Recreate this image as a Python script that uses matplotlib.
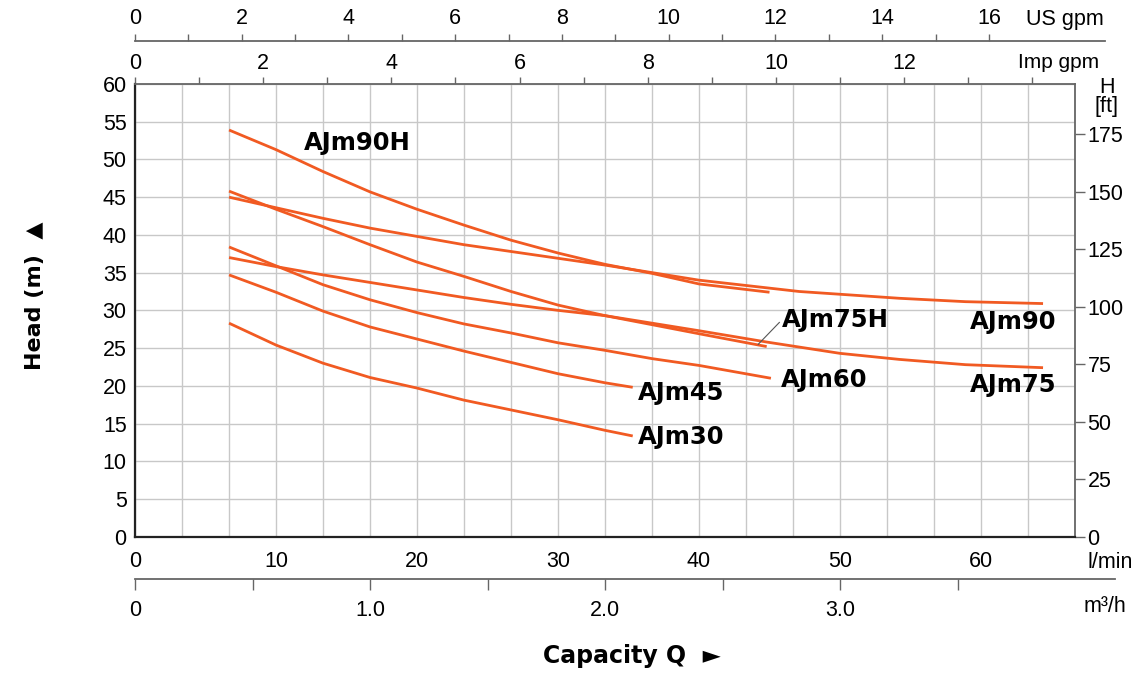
import matplotlib.pyplot as plt
from matplotlib.ticker import MultipleLocator

# capacity in l/min, head in m
q_90h = [6.67, 10, 13.33, 16.67, 20, 23.33, 26.67, 30, 33.33, 36.67, 40, 45.0]
h_90h = [53.9, 51.3, 48.4, 45.7, 43.4, 41.3, 39.3, 37.6, 36.1, 34.9, 33.5, 32.4]

q_90 = [6.67, 10, 13.33, 16.67, 20, 23.33, 26.67, 30, 33.33, 36.67, 40, 47.1, 54.2, 58.9, 64.4]
h_90 = [45.0, 43.6, 42.2, 40.9, 39.8, 38.7, 37.8, 36.9, 36.0, 35.0, 34.0, 32.5, 31.6, 31.15, 30.9]

q_75h = [6.67, 10, 13.33, 16.67, 20, 23.33, 26.67, 30, 33.33, 36.67, 40, 44.8]
h_75h = [45.8, 43.4, 41.1, 38.7, 36.4, 34.5, 32.5, 30.7, 29.3, 28.1, 26.9, 25.2]

q_75 = [6.67, 10, 13.33, 16.67, 20, 23.33, 26.67, 30, 33.33, 36.67, 40, 44.8, 50, 54.2, 58.9, 64.4]
h_75 = [37.0, 35.8, 34.7, 33.7, 32.7, 31.7, 30.8, 30.0, 29.3, 28.3, 27.3, 25.8, 24.3, 23.5, 22.8, 22.4]

q_60 = [6.67, 10, 13.33, 16.67, 20, 23.33, 26.67, 30, 33.33, 36.67, 40, 45.1]
h_60 = [38.4, 35.9, 33.4, 31.4, 29.7, 28.2, 27.0, 25.7, 24.7, 23.6, 22.7, 21.0]

q_45 = [6.67, 10, 13.33, 16.67, 20, 23.33, 26.67, 30, 33.33, 35.3]
h_45 = [34.7, 32.4, 29.9, 27.8, 26.2, 24.6, 23.1, 21.6, 20.4, 19.8]

q_30 = [6.67, 10, 13.33, 16.67, 20, 23.33, 26.67, 30, 33.33, 35.3]
h_30 = [28.3, 25.4, 23.0, 21.1, 19.7, 18.1, 16.8, 15.5, 14.1, 13.35]

curves = [(q_90h, h_90h), (q_90, h_90), (q_75h, h_75h), (q_75, h_75),
          (q_60, h_60), (q_45, h_45), (q_30, h_30)]

labels = ["AJm90H", "AJm90", "AJm75H", "AJm75", "AJm60", "AJm45", "AJm30"]
label_x = [12.0, 59.2, 45.9, 59.2, 45.8, 35.65, 35.65]
label_y = [52.2, 28.45, 28.7, 20.1, 20.8, 19.0, 13.2]

orange = "#f15a22"
tick_font = "Liberation Sans"
fs = 15.5
W, H = 1148, 673

fig = plt.figure(figsize=(W / 100, H / 100), dpi=100)
L, R, B, T = 135 / W, 1075 / W, (H - 536.7) / H, (H - 84) / H
ax = fig.add_axes([L, B, R - L, T - B])

XMAX = 200 / 3  # 4.0 m3/h in l/min
ax.set_xlim(0, XMAX)
ax.set_ylim(0, 60)

for (q, h) in curves:
    ax.plot(q, h, color=orange, lw=2.0, solid_capstyle='butt', solid_joinstyle='round', zorder=3)

for name, x, y in zip(labels, label_x, label_y):
    ax.text(x, y, name, ha='left', va='center', fontsize=17.5, fontweight='heavy',
            family='DejaVu Sans', zorder=4)
# leader line for AJm75H
ax.plot([44.2, 45.7], [25.5, 28.4], color='#555555', lw=0.8, zorder=4)

# grid
ax.xaxis.set_major_locator(MultipleLocator(10))
ax.xaxis.set_minor_locator(MultipleLocator(10 / 3))
ax.yaxis.set_major_locator(MultipleLocator(5))
ax.grid(True, which='both', axis='x', color='#c8c8c8', lw=1.0, zorder=0)
ax.grid(True, which='major', axis='y', color='#c8c8c8', lw=1.0, zorder=0)
ax.tick_params(axis='both', which='both', length=0)
ax.tick_params(axis='x', pad=10, labelsize=fs)
ax.tick_params(axis='y', pad=6, labelsize=fs)
for lab in ax.get_xticklabels() + ax.get_yticklabels():
    lab.set_family(tick_font)
ax.set_axisbelow(True)

for s in ['left', 'bottom']:
    ax.spines[s].set_color('#222222')
    ax.spines[s].set_linewidth(1.6)
for s in ['top', 'right']:
    ax.spines[s].set_color('#666666')
    ax.spines[s].set_linewidth(1.3)

# right axis in feet
ft = ax.secondary_yaxis('right', functions=(lambda m: m / 0.3048, lambda f: f * 0.3048))
ft.set_yticks(range(0, 176, 25))
ft.tick_params(length=7, width=1.0, color='#666666', pad=2, labelsize=fs)
ft.spines['right'].set_visible(False)
for lab in ft.get_yticklabels():
    lab.set_family(tick_font)

# top axis imp gpm
imp = ax.secondary_xaxis('top', functions=(lambda x: x / 4.546, lambda g: g * 4.546))
imp.set_xticks(range(0, 15), labels=[str(i) if i % 2 == 0 and i < 14 else "" for i in range(0, 15)])
imp.tick_params(length=5, width=1.0, color='#666666', pad=2, labelsize=fs)
imp.spines['top'].set_visible(False)
for lab in imp.get_xticklabels():
    lab.set_family(tick_font)

# US gpm axis line
us_end = 68.8
ax_us = fig.add_axes([L, (H - 41.3) / H, (R - L) * us_end / XMAX, 0.0001])
ax_us.set_xlim(0, us_end / 3.785)
ax_us.set_yticks([])
ax_us.patch.set_visible(False)
for s in ['left', 'right', 'bottom']:
    ax_us.spines[s].set_visible(False)
ax_us.spines['top'].set_color('#666666')
ax_us.spines['top'].set_linewidth(1.3)
ax_us.xaxis.tick_top()
ax_us.set_xticks(range(0, 17), labels=[str(i) if i % 2 == 0 else "" for i in range(0, 17)])
ax_us.tick_params(axis='x', length=5, width=1.0, color='#666666', pad=4, labelsize=fs)
for lab in ax_us.get_xticklabels():
    lab.set_family(tick_font)

# m3/h axis line
m3_end = 69.5
ax_m3 = fig.add_axes([L, (H - 579) / H, (R - L) * m3_end / XMAX, 0.0001])
ax_m3.set_xlim(0, m3_end * 0.06)
ax_m3.set_yticks([])
ax_m3.patch.set_visible(False)
for s in ['left', 'right', 'top']:
    ax_m3.spines[s].set_visible(False)
ax_m3.spines['bottom'].set_color('#666666')
ax_m3.spines['bottom'].set_linewidth(1.3)
m3_ticks = [0, 0.5, 1.0, 1.5, 2.0, 2.5, 3.0, 3.5]
ax_m3.set_xticks(m3_ticks, labels=["0", "", "1.0", "", "2.0", "", "3.0", ""])
ax_m3.tick_params(axis='x', length=8, width=1.0, color='#666666', pad=7, labelsize=fs)
for lab in ax_m3.get_xticklabels():
    lab.set_family(tick_font)

# unit labels
fig.text(1026 / W, 1 - 20 / H, "US gpm", ha='left', va='center', fontsize=fs, family=tick_font)
fig.text(1018 / W, 1 - 62 / H, "Imp gpm", ha='left', va='center', fontsize=fs - 0.5, family=tick_font)
fig.text(1107 / W, 1 - 97 / H, "H\n[ft]", ha='center', va='center', fontsize=fs,
         family=tick_font, linespacing=0.9)
fig.text(1110 / W, 1 - 562 / H, "l/min", ha='center', va='center', fontsize=fs, family=tick_font)
fig.text(1105 / W, 1 - 607 / H, "m³/h", ha='center', va='center', fontsize=fs, family=tick_font)

fig.text(632 / W, 1 - 656 / H, "Capacity Q  \u25ba", ha='center', va='center',
         fontsize=17, fontweight='heavy', family='DejaVu Sans')
fig.text(35 / W, 1 - 296 / H, "Head (m)  \u25b2", ha='center', va='center', rotation=90,
         fontsize=16, fontweight='heavy', family='DejaVu Sans')

fig.savefig("out.png", dpi=100)
